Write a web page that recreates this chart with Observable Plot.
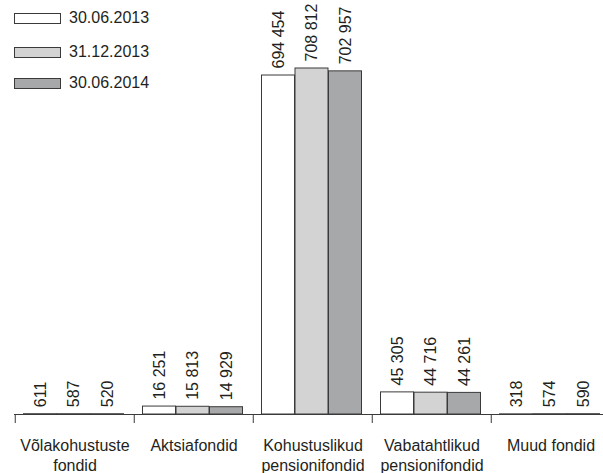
<!DOCTYPE html>
<html><head><meta charset="utf-8">
<script src="https://cdn.jsdelivr.net/npm/d3@7"></script>
<script src="https://cdn.jsdelivr.net/npm/@observablehq/plot@0.6"></script>
<style>
body{margin:0;background:#fff;overflow:hidden;font-family:"Liberation Sans",Arial,sans-serif;}
#wrap{position:relative;width:603px;height:473px;overflow:hidden;}
#legend{position:absolute;left:14px;top:0;}
.item{position:absolute;left:0;display:flex;align-items:center;white-space:nowrap;font-size:16px;color:#231f20;line-height:16px;}
.sw{width:45px;height:9px;border:1px solid #3a3a3a;margin-right:8px;box-sizing:content-box;}
</style></head><body><div id="wrap"><div id="legend"></div></div>
<script>
const categories = ["Võlakohustuste\nfondid","Aktsiafondid","Kohustuslikud\npensionifondid","Vabatahtlikud\npensionifondid","Muud fondid"];
const seriesNames = ["30.06.2013","31.12.2013","30.06.2014"];
const values2013jun = [611, 16251, 694454, 45305, 318];
const values2013dec = [587, 15813, 708812, 44716, 574];
const values2014jun = [520, 14929, 702957, 44261, 590];
const colors = ["#ffffff","#d3d3d3","#a7a8aa"];

const seriesValues = [values2013jun, values2013dec, values2014jun];
const W = 603, H = 473;
const left = 14, step = 119.5, pad = 8.5, bw = 33.5;
const ink = "#231f20", edge = "#3a3a3a";
const fmt = d3.formatLocale({thousands: " ", grouping: [3], decimal: ","}).format(",d");

const rows = seriesValues.map((vals, i) => categories.map((c, j) => ({cat: c, series: seriesNames[i], value: vals[j]})));
const ymax = d3.max(seriesValues.flat());

const marks = [];
rows.forEach((data, i) => {
  marks.push(Plot.barY(data, {
    x: "cat", y: "value", fill: colors[i], stroke: edge, strokeWidth: 1,
    insetLeft: pad + i * bw, insetRight: step - pad - (i + 1) * bw
  }));
});
rows.forEach((data, i) => {
  marks.push(Plot.text(data, {
    x: "cat", y: "value", text: d => fmt(d.value), rotate: -90,
    textAnchor: "start", lineAnchor: "middle",
    dx: pad + (i + 0.5) * bw - step / 2, dy: -7,
    fontSize: 16, fill: ink
  }));
});
marks.push(Plot.ruleY([0], {stroke: edge, strokeWidth: 1}));
marks.push(Plot.ruleX(categories, {x: d => d, dx: -step / 2, y1: 0, y2: 0, insetBottom: -9, stroke: edge}));
marks.push(Plot.text(categories, {x: d => d, y: () => 0, text: d => d, dy: 22, lineAnchor: "top", lineHeight: 1.25, fontSize: 16, fill: ink}));

const chart = Plot.plot({
  width: W, height: H,
  marginLeft: left, marginRight: W - (left + categories.length * step),
  marginTop: 68, marginBottom: 59,
  style: {fontFamily: '"Liberation Sans", Arial, sans-serif', background: "#fff", overflow: "visible"},
  x: {domain: categories, padding: 0, axis: null},
  y: {domain: [0, ymax], axis: null},
  marks
});
document.getElementById("wrap").prepend(chart);

const legendTops = [10, 44, 75];
const legend = document.getElementById("legend");
seriesNames.forEach((s, i) => {
  const item = document.createElement("div");
  item.className = "item";
  item.style.top = legendTops[i] + "px";
  const sw = document.createElement("div");
  sw.className = "sw";
  sw.style.background = colors[i];
  const t = document.createElement("span");
  t.textContent = s;
  item.append(sw, t);
  legend.append(item);
});
</script></body></html>
